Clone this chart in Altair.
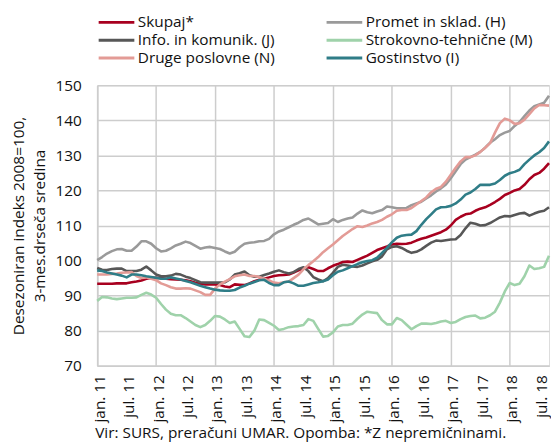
import altair as alt
import pandas as pd

# month index 0 = jan. 2011 ... 92 = sep. 2018
series_names = ["Skupaj*", "Promet in sklad. (H)", "Info. in komunik. (J)",
                "Strokovno-tehnične (M)", "Druge poslovne (N)", "Gostinstvo (I)"]
series_colors = ["#a8001f", "#9a9a9a", "#575757", "#9fd2aa", "#e39b96", "#2f7d87"]

tick_labels = ["jan. 11", "jul. 11", "jan. 12", "jul. 12", "jan. 13", "jul. 13",
               "jan. 14", "jul. 14", "jan. 15", "jul. 15", "jan. 16", "jul. 16",
               "jan. 17", "jul. 17", "jan. 18", "jul. 18"]

skupaj = [93.4, 93.4, 93.4, 93.4, 93.5, 93.5, 93.5, 93.8, 94.0, 94.3, 94.8, 95.0,
          95.1, 95.0, 94.8, 94.7, 94.6, 94.5, 94.4, 94.1, 93.7, 93.4, 93.2, 93.2,
          93.2, 93.0, 92.6, 92.4, 93.2, 93.1, 93.0, 93.5, 94.1, 94.5, 94.8, 95.2,
          95.6, 95.8, 95.9, 96.0, 96.6, 97.2, 97.7, 98.1, 97.6, 97.0, 97.0, 97.8,
          98.5, 99.0, 99.6, 99.7, 99.6, 100.2, 100.8, 101.4, 102.2, 103.0, 103.5, 104.0,
          104.6, 104.8, 104.7, 104.8, 105.1, 105.7, 106.2, 106.6, 107.1, 107.6, 108.1, 108.8,
          110.0, 111.6, 112.5, 113.2, 113.4, 114.2, 114.8, 115.2, 115.9, 116.7, 117.6, 118.7,
          119.3, 120.0, 120.4, 121.6, 123.2, 124.4, 125.0, 126.2, 127.8]

promet = [100.1, 101.0, 102.0, 102.7, 103.2, 103.3, 102.8, 102.8, 104.0, 105.5, 105.5, 104.8,
          103.5, 102.6, 102.8, 103.5, 104.3, 104.8, 105.4, 105.0, 104.2, 103.4, 103.7, 103.9,
          103.6, 103.3, 102.6, 102.0, 102.5, 103.8, 104.8, 105.1, 105.2, 105.5, 105.6, 106.2,
          107.5, 108.3, 108.8, 109.5, 110.2, 110.8, 111.6, 112.0, 111.2, 110.3, 110.5, 110.7,
          111.8, 111.0, 111.6, 112.0, 112.3, 113.4, 114.3, 113.8, 113.5, 114.0, 114.4, 115.4,
          115.2, 114.9, 114.9, 115.0, 115.8, 116.3, 116.8, 117.7, 118.6, 119.7, 120.6, 121.7,
          123.5, 125.5, 127.5, 128.8, 129.5, 130.2, 131.0, 132.2, 133.6, 134.6, 135.8, 136.5,
          137.0, 138.4, 139.5, 141.2, 142.8, 144.0, 144.5, 145.0, 147.0]

info = [97.9, 97.4, 97.3, 97.6, 97.7, 97.7, 97.0, 97.0, 97.0, 97.4, 98.3, 97.2,
        96.0, 95.5, 95.5, 95.7, 96.2, 96.0, 95.4, 95.0, 94.4, 93.8, 93.7, 93.7,
        93.7, 93.7, 93.8, 94.6, 96.0, 96.4, 96.9, 95.8, 95.4, 95.4, 95.9, 96.3,
        96.8, 97.2, 96.7, 96.3, 96.7, 97.6, 98.1, 97.0, 95.3, 94.6, 94.1, 95.0,
        96.5, 98.2, 98.8, 98.6, 98.3, 98.2, 98.6, 99.2, 99.8, 100.2, 101.2, 103.2,
        103.9, 104.1, 103.6, 102.8, 102.2, 102.5, 103.2, 104.2, 105.1, 105.7, 105.6, 105.8,
        106.0, 106.1, 107.3, 109.2, 110.8, 110.5, 110.0, 110.1, 110.7, 111.5, 112.3, 112.7,
        112.6, 113.0, 113.4, 113.6, 112.8, 113.4, 113.9, 114.2, 115.2]

strokovno = [88.5, 89.6, 89.5, 89.2, 89.0, 89.2, 89.4, 89.4, 89.5, 90.2, 90.8, 90.3,
             89.4, 87.6, 86.0, 84.8, 84.4, 84.4, 83.6, 82.6, 81.6, 81.0, 81.6, 82.8,
             84.2, 84.0, 83.2, 82.2, 82.6, 80.5, 78.4, 78.2, 80.0, 83.2, 83.0, 82.2,
             81.4, 80.2, 80.5, 81.0, 81.2, 81.3, 81.6, 83.3, 82.8, 80.5, 78.3, 78.5,
             79.5, 81.2, 81.6, 81.6, 82.0, 83.4, 84.6, 85.4, 85.2, 85.0, 83.0, 81.8,
             81.8, 83.6, 83.0, 81.7, 80.4, 81.3, 82.0, 82.0, 81.9, 82.2, 82.6, 82.8,
             82.2, 82.5, 83.3, 83.9, 84.2, 84.3, 83.5, 83.7, 84.4, 85.4, 88.0, 91.2,
             93.6, 93.0, 93.4, 95.5, 98.6, 97.6, 97.8, 98.2, 101.4]

druge = [96.0, 96.0, 96.0, 96.2, 96.3, 96.5, 96.6, 96.7, 95.6, 95.0, 95.2, 94.8,
         94.4, 93.5, 93.0, 92.4, 92.0, 92.0, 92.1, 92.0, 91.5, 91.0, 90.2, 90.2,
         92.0, 93.2, 94.0, 94.7, 95.5, 95.8, 96.0, 95.6, 95.6, 95.3, 94.8, 94.3,
         93.7, 93.5, 93.8, 94.0, 95.0, 96.0, 97.5, 98.7, 99.8, 101.0, 102.4, 103.5,
         104.6, 105.8, 107.0, 108.0, 109.0, 109.8, 109.6, 110.0, 110.6, 111.0, 111.6, 112.5,
         113.2, 114.2, 114.4, 114.4, 115.0, 116.0, 117.0, 118.0, 119.5, 120.5, 121.0, 122.5,
         124.5, 126.5, 128.3, 129.5, 129.5, 130.0, 131.0, 132.2, 133.5, 136.5, 139.2, 140.5,
         140.0, 139.0, 139.2, 140.2, 141.8, 143.4, 144.4, 144.3, 144.2]

gostinstvo = [97.2, 97.0, 96.6, 96.3, 96.0, 95.7, 95.2, 96.0, 96.0, 95.8, 95.5, 95.3,
              95.1, 94.8, 94.8, 95.2, 94.9, 94.6, 94.2, 93.8, 93.3, 92.8, 92.4, 92.0,
              91.7, 91.5, 91.4, 91.4, 91.6, 92.3, 92.8, 93.4, 93.9, 94.4, 94.5, 93.6,
              93.0, 93.0, 93.8, 94.0, 93.5, 92.8, 92.8, 93.2, 93.6, 93.8, 94.1, 94.6,
              95.8, 96.8, 97.2, 97.8, 98.4, 99.0, 99.5, 99.9, 100.1, 100.8, 102.2, 103.6,
              105.2, 106.5, 107.1, 107.3, 107.4, 108.4, 110.2, 111.8, 113.2, 114.6, 115.2, 115.3,
              115.6, 116.3, 117.4, 118.8, 119.4, 120.4, 121.6, 121.6, 121.6, 122.0, 123.0, 124.2,
              124.9, 125.3, 125.9, 127.5, 128.8, 130.0, 130.9, 132.1, 134.0]

y_title = ["Desezoniran indeks 2008=100,", "3-mes.drseča sredina"]
footer = "Vir: SURS, preračuni UMAR. Opomba: *Z nepremičninami."

all_values = [skupaj, promet, info, strokovno, druge, gostinstvo]
rows = []
for order, (name, vals) in enumerate(zip(series_names, all_values)):
    for m, v in enumerate(vals):
        rows.append({"m": m, "v": v, "s": name, "o": order})
df = pd.DataFrame(rows)

FONT = "Open Sans"
FS = 15.5
GRID = "#cdcdcd"

label_expr = "[" + ",".join("'%s'" % t for t in tick_labels) + "][floor(datum.value / 6)]"

x_axis = alt.Axis(
    values=list(range(0, 6 * len(tick_labels), 6)),
    labelExpr=label_expr,
    labelAngle=270,
    labelPadding=9,
    labelOffset=2,
    labelFlush=False,
    labelOverlap=False,
    labelFont=FONT,
    labelFontSize=FS,
    labelColor="#111111",
    ticks=False,
    grid=True,
    gridColor=GRID,
    gridWidth=1.5,
    gridOpacity={"condition": {"test": "datum.value % 12 === 0", "value": 1}, "value": 0},
    domainColor=GRID,
    domainWidth=1.5,
    title=None,
)

y_axis = alt.Axis(
    values=list(range(70, 151, 10)),
    labelPadding=16,
    labelFont=FONT,
    labelFontSize=FS,
    labelColor="#111111",
    ticks=False,
    grid=True,
    gridColor=GRID,
    gridWidth=1.5,
    domainColor=GRID,
    domainWidth=1.5,
    title=y_title,
    titleFont=FONT,
    titleFontSize=FS,
    titleFontWeight="normal",
    titleColor="#111111",
    titlePadding=8,
    titleLineHeight=21,
)

legend = alt.Legend(
    orient="none",
    legendX=0,
    legendY=-73,
    columns=2,
    direction="horizontal",
    columnPadding=45,
    rowPadding=0,
    padding=0,
    symbolType="M-1,0L3.5,0",
    symbolSize=256,
    symbolStrokeWidth=3,
    labelFont=FONT,
    labelFontSize=FS,
    labelColor="#111111",
    labelOffset=22,
    labelLimit=400,
    title=None,
)

chart = (
    alt.Chart(df)
    .mark_line(strokeWidth=2.6, strokeJoin="round")
    .encode(
        x=alt.X("m:Q", scale=alt.Scale(domain=[0, 92], nice=False, zero=False), axis=x_axis),
        y=alt.Y("v:Q", scale=alt.Scale(domain=[70, 150], nice=False, zero=False), axis=y_axis),
        color=alt.Color("s:N", scale=alt.Scale(domain=series_names, range=series_colors), legend=legend),
        order=alt.Order("o:Q"),
    )
    .properties(
        width=456,
        height=283,
        padding={"top": 3, "left": 3, "right": 0, "bottom": 0},
        title=alt.TitleParams(
            footer,
            orient="bottom",
            anchor="start",
            frame="group",
            font=FONT,
            fontSize=FS,
            fontWeight="normal",
            color="#111111",
            offset=4,
            dx=-2,
        ),
    )
    .configure_view(stroke=None)
    .configure(background="white")
)

chart.save("out.html", embed_options={"renderer": "svg", "actions": False})
